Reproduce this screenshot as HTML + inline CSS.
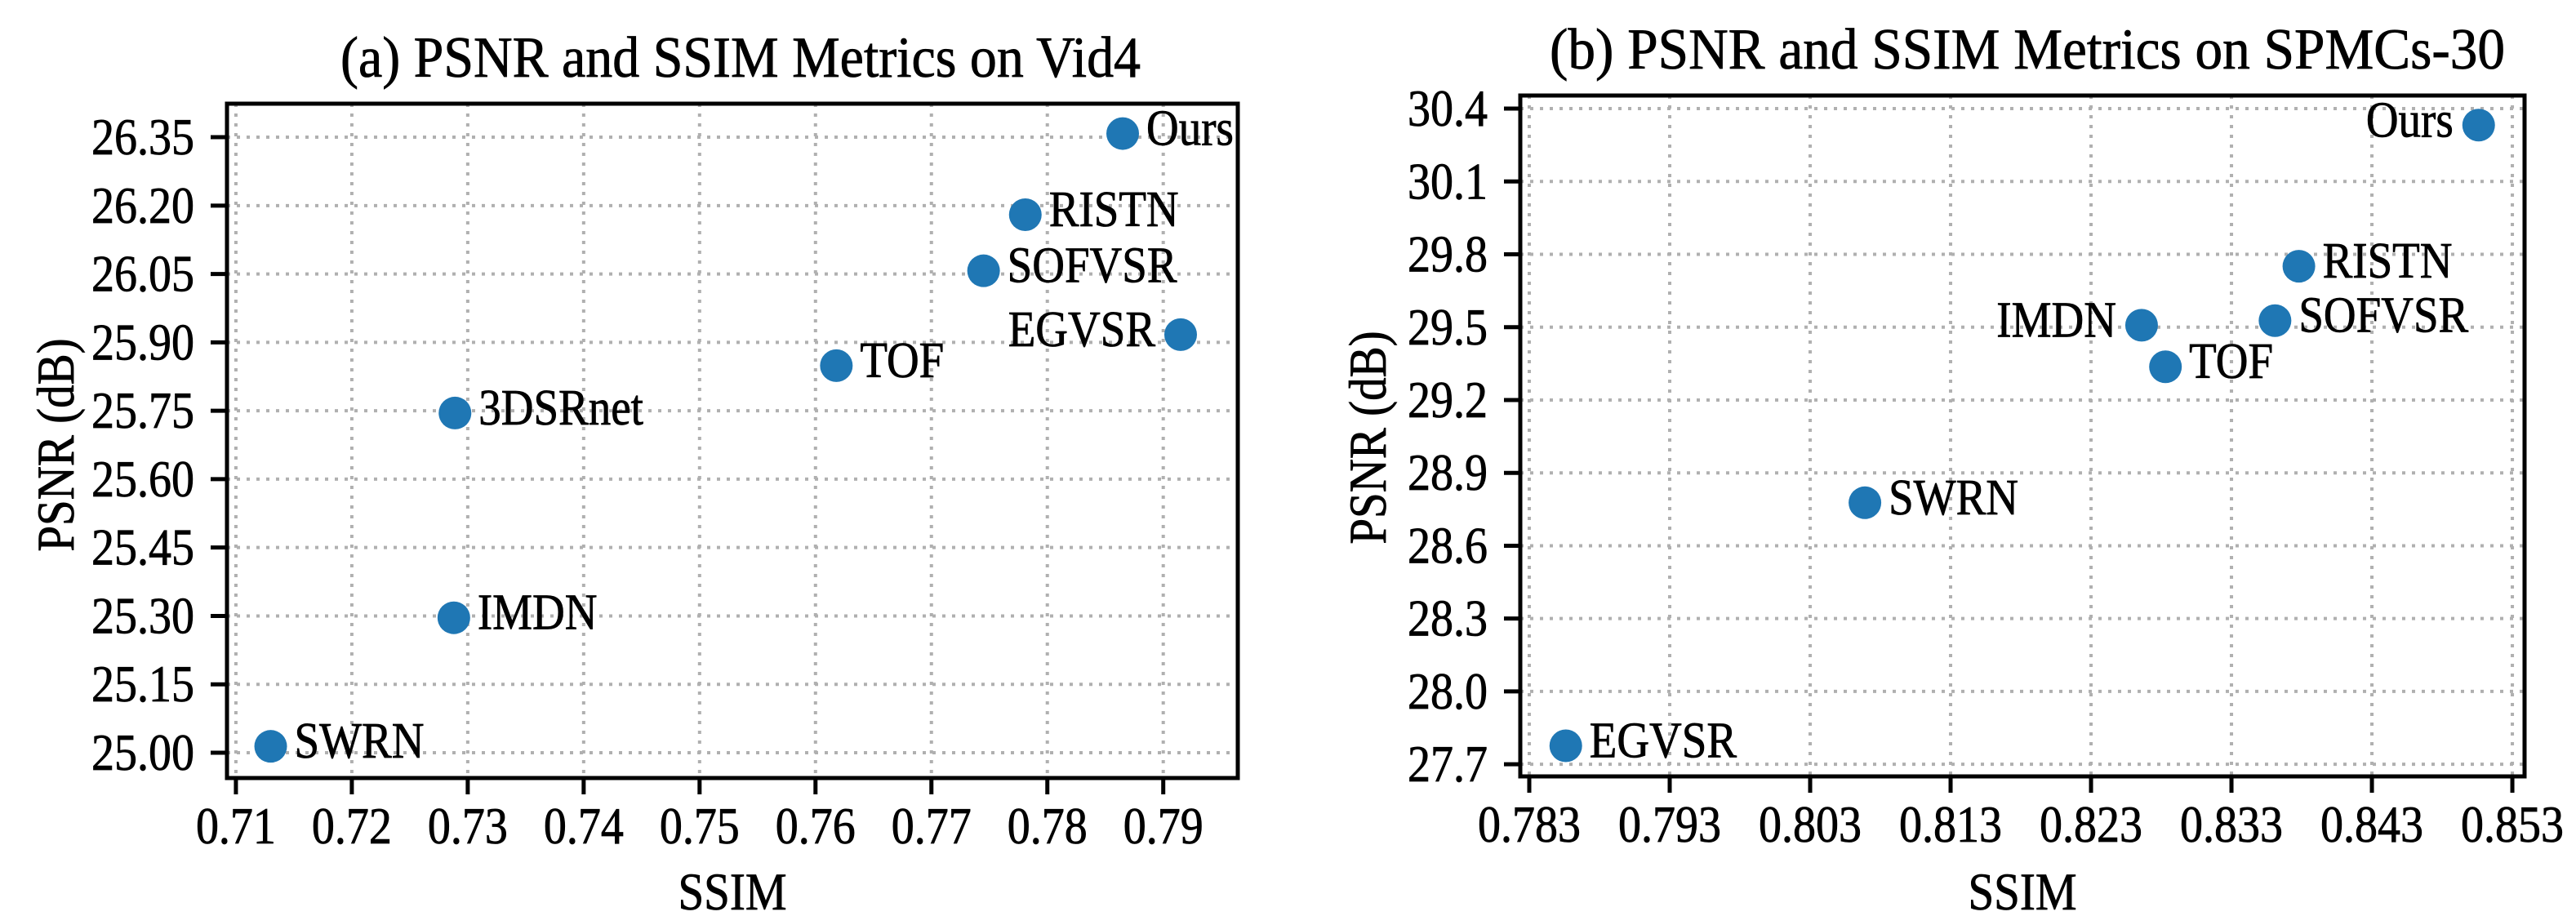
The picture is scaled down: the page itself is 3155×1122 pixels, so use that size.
<!DOCTYPE html>
<html><head><meta charset="utf-8"><style>
html,body{margin:0;padding:0;background:#fff;}
svg{display:block;font-family:"Liberation Serif","DejaVu Serif",serif;}
text{stroke:#000;stroke-width:0.7;}
</style></head><body>
<svg id="chart" width="3155" height="1122" viewBox="0 0 3155 1122" xmlns="http://www.w3.org/2000/svg"></svg>
<script>
// Panel (a) Vid4
const namesA = ["Ours","RISTN","SOFVSR","EGVSR","TOF","3DSRnet","IMDN","SWRN"];
const ssimA = [0.7865,0.7781,0.7745,0.7915,0.7618,0.7289,0.7288,0.7130];
const psnrA = [26.358,26.180,26.057,25.917,25.849,25.745,25.296,25.014];
const sideA = ["r","r","r","l","r","r","r","r"];
const xTicksA = ["0.71","0.72","0.73","0.74","0.75","0.76","0.77","0.78","0.79"];
const yTicksA = ["25.00","25.15","25.30","25.45","25.60","25.75","25.90","26.05","26.20","26.35"];
// Panel (b) SPMCs-30
const namesB = ["Ours","RISTN","SOFVSR","IMDN","TOF","SWRN","EGVSR"];
const ssimB = [0.8506,0.8378,0.8361,0.8266,0.8283,0.8069,0.7856];
const psnrB = [30.332,29.751,29.527,29.508,29.337,28.777,27.776];
const sideB = ["l","r","r","l","r","r","r"];
const xTicksB = ["0.783","0.793","0.803","0.813","0.823","0.833","0.843","0.853"];
const yTicksB = ["27.7","28.0","28.3","28.6","28.9","29.2","29.5","29.8","30.1","30.4"];

const NS = "http://www.w3.org/2000/svg";
const svg = document.getElementById("chart");
const SY = 1.14;
function mk(tag, attrs, parent){
  const e = document.createElementNS(NS, tag);
  for (const k in attrs) e.setAttribute(k, attrs[k]);
  (parent||svg).appendChild(e);
  return e;
}
function txt(g, x, y, size, anchor, s){
  const t = mk("text", {x:0, y:0, "font-size":size, "text-anchor":anchor, transform:"translate(" + x + "," + y + ") scale(1," + SY + ")"}, g);
  t.textContent = s;
  return t;
}
function panel(cfg){
  const g = mk("g", {});
  
  
  const sx = v => cfg.L + (v - cfg.x0) / (cfg.x1 - cfg.x0) * (cfg.R - cfg.L);
  const sy = v => cfg.B - (v - cfg.y0) / (cfg.y1 - cfg.y0) * (cfg.B - cfg.T);
  cfg.xt.forEach(t => {
    const x = sx(parseFloat(t));
    const l = mk("line", {x1:x, x2:x, y1:cfg.T, y2:cfg.B, stroke:"#b0b0b0", "stroke-width":4, "stroke-dasharray":"4 8"}, g);
    
    
  });
  cfg.yt.forEach(t => {
    const y = sy(parseFloat(t));
    const l = mk("line", {x1:cfg.L, x2:cfg.R, y1:y, y2:y, stroke:"#b0b0b0", "stroke-width":4, "stroke-dasharray":"4 8"}, g);
    
    
  });
  cfg.names.forEach((n, i) => {
    const cx = sx(cfg.xs[i]), cy = sy(cfg.ys[i]);
    const c = mk("circle", {cx:cx, cy:cy, r:20, fill:"#1f77b4"}, g);
    
    
    const right = cfg.side[i] === "r";
    const t = txt(g, right ? cx + 29 : cx - 31, cy + 14, 55, right ? "start" : "end", n);
    
    
  });
  const r = mk("rect", {x:cfg.L, y:cfg.T, width:cfg.R-cfg.L, height:cfg.B-cfg.T, fill:"none", stroke:"#000", "stroke-width":5}, g);
  
  
  cfg.xt.forEach(t => {
    const x = sx(parseFloat(t));
    const tk = mk("line", {x1:x, x2:x, y1:cfg.B, y2:cfg.B+20, stroke:"#000", "stroke-width":5}, g);
    
    
    const lb = txt(g, x, cfg.B+80, 56, "middle", t);
    
    
  });
  cfg.yt.forEach(t => {
    const y = sy(parseFloat(t));
    const tk = mk("line", {x1:cfg.L-20, x2:cfg.L, y1:y, y2:y, stroke:"#000", "stroke-width":5}, g);
    
    
    const lb = txt(g, cfg.L-40, y+21, 56, "end", t);
    
    
  });
  const ti = mk("text", {x:0, y:0, "font-size":62, "text-anchor":"middle", textLength:cfg.tw, lengthAdjust:"spacingAndGlyphs", transform:"translate(" + cfg.tx + "," + cfg.ty + ") scale(1," + SY + ")"}, g);
  ti.textContent = cfg.title;
  
  
  const xl = txt(g, (cfg.L+cfg.R)/2, 1114, 57, "middle", "SSIM");
  
  
  const yl = mk("text", {x:0, y:0, "font-size":57, "text-anchor":"middle", transform:"translate(" + cfg.ylx + "," + cfg.yly + ") rotate(-90) scale(1," + SY + ")"}, g);
  yl.textContent = "PSNR (dB)";
  
  
}
panel({id:"panel-vid4", L:278, R:1516, T:127, B:953, x0:0.70923, x1:0.79643, y0:24.9445, y1:26.4235,
  names:namesA, xs:ssimA, ys:psnrA, side:sideA, xt:xTicksA, yt:yTicksA,
  title:"(a) PSNR and SSIM Metrics on Vid4", tx:907, ty:94, tw:980, ylx:90, yly:545});
panel({id:"panel-spmcs", L:1862, R:3092, T:117, B:951, x0:0.78236, x1:0.85387, y0:27.65, y1:30.454,
  names:namesB, xs:ssimB, ys:psnrB, side:sideB, xt:xTicksB, yt:yTicksB,
  title:"(b) PSNR and SSIM Metrics on SPMCs-30", tx:2483, ty:84, tw:1170, ylx:1697, yly:536});
</script>
</body></html>
